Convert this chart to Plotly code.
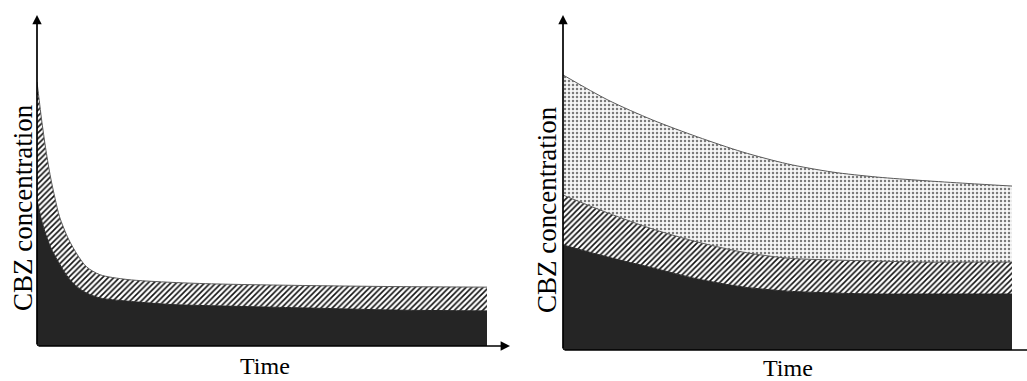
import plotly.graph_objects as go

W, H = 1027, 381

# ---- Left panel: rapid decline (time in arbitrary units, concentration in arbitrary units)
left_time = [0, 0.05, 0.1, 0.2, 0.3, 0.4, 0.5, 0.7, 0.9, 1.1, 1.4, 2, 3, 4, 6, 8, 10]
left_black = [55.3, 51.5, 47.7, 42.0, 37.5, 34.1, 31.1, 25.8, 22.3, 20.1, 18.2, 17.0,
              15.7, 15.2, 14.4, 13.6, 13.3]
left_hatched_top = [100, 93, 86, 74, 64, 56, 49, 40.5, 34.5, 30, 27, 25.2, 24.1, 23.5,
                    22.9, 22.5, 22.3]

# ---- Right panel: slow decline
right_time = [0, 1, 2, 3, 4, 5, 6, 7, 8, 9, 10]
right_black = [39.8, 35.2, 31.1, 26.9, 23.9, 22.3, 21.6, 21.2, 21.2, 21.2, 21.2]
right_hatched_top = [58.7, 51.9, 45.8, 40.9, 37.1, 34.8, 34.1, 33.7, 33.3, 33.3, 33.3]
right_dotted_top = [104.2, 94.7, 87.1, 80.7, 75.0, 70.5, 67.4, 65.5, 64.2, 63.1, 62.1]

y_title = "CBZ concentration"
x_title = "Time"

BLACK = "#252525"
EDGE = "#5a5a5a"
SERIF = "Liberation Serif, Times New Roman, serif"

fig = go.Figure()


def add_band(xax, yax, x, y, fill, **kw):
    fig.add_trace(go.Scatter(
        x=x, y=y, xaxis=xax, yaxis=yax, mode="lines",
        line=dict(shape="spline", smoothing=0.8, **kw.pop("line", {})),
        fill=fill, hoverinfo="skip", showlegend=False, **kw))


hatch = dict(shape="/", size=4, solidity=0.4, fgcolor="#111111", bgcolor="white",
             fillmode="replace")
dots = dict(shape=".", size=4, solidity=0.3, fgcolor="#7a7a7a", bgcolor="#f7f7f7",
            fillmode="replace")

# left
add_band("x", "y", left_time, left_black, "tozeroy",
         fillcolor=BLACK, line=dict(color=BLACK, width=1))
add_band("x", "y", left_time, left_hatched_top, "tonexty",
         fillpattern=hatch, line=dict(color=EDGE, width=1))

# right
add_band("x2", "y2", right_time, right_black, "tozeroy",
         fillcolor=BLACK, line=dict(color=BLACK, width=1))
add_band("x2", "y2", right_time, right_hatched_top, "tonexty",
         fillpattern=hatch, line=dict(color=EDGE, width=1))
add_band("x2", "y2", right_time, right_dotted_top, "tonexty",
         fillpattern=dots, line=dict(color=EDGE, width=1))

# axis geometry in pixels
L_x0, L_x1, L_yb, L_yt = 37, 510, 346, 15
R_x0, R_x1, R_yb, R_yt = 563, 1027, 350, 15
px_per_t = 45.0
px_per_c = 2.64

L_xmax = (L_x1 - L_x0) / px_per_t
L_ymax = (L_yb - L_yt) / px_per_c
R_xmax = (R_x1 - R_x0) / 44.9
R_ymax = (R_yb - R_yt) / px_per_c

axis_common = dict(showgrid=False, zeroline=False, showline=False,
                   showticklabels=False, ticks="")

fig.update_layout(
    width=W, height=H, autosize=False,
    margin=dict(l=0, r=0, t=0, b=0),
    paper_bgcolor="white", plot_bgcolor="rgba(0,0,0,0)",
    xaxis=dict(domain=[L_x0 / W, L_x1 / W], range=[0, L_xmax], **axis_common),
    yaxis=dict(domain=[(H - L_yb) / H, (H - L_yt) / H], range=[0, L_ymax], **axis_common),
    xaxis2=dict(domain=[R_x0 / W, 1.0], range=[0, R_xmax], anchor="y2", **axis_common),
    yaxis2=dict(domain=[(H - R_yb) / H, (H - R_yt) / H], range=[0, R_ymax],
                anchor="x2", **axis_common),
)

arrow = dict(showarrow=True, arrowhead=2, arrowsize=1.1, arrowwidth=1.7,
             arrowcolor="black", text="")

# axis arrows
fig.add_annotation(x=L_xmax, y=0, ax=0, ay=0, xref="x", yref="y", axref="x", ayref="y", **arrow)
fig.add_annotation(x=0, y=L_ymax, ax=0, ay=0, xref="x", yref="y", axref="x", ayref="y", **arrow)
fig.add_annotation(x=R_xmax + 0.3, y=0, ax=0, ay=0, xref="x2", yref="y2", axref="x2",
                   ayref="y2", **arrow)
fig.add_annotation(x=0, y=R_ymax, ax=0, ay=0, xref="x2", yref="y2", axref="x2",
                   ayref="y2", **arrow)

# axis titles
for cx, cy in [(23, 208), (547, 210)]:
    fig.add_annotation(x=cx / W, y=1 - cy / H, xref="paper", yref="paper",
                       text=y_title, showarrow=False, textangle=-90,
                       font=dict(family=SERIF, size=27, color="black"),
                       xanchor="center", yanchor="middle")
for cx, cy in [(265, 366), (788, 368)]:
    fig.add_annotation(x=cx / W, y=1 - cy / H, xref="paper", yref="paper",
                       text=x_title, showarrow=False,
                       font=dict(family=SERIF, size=24, color="black"),
                       xanchor="center", yanchor="middle")

fig.write_html("out.html")
